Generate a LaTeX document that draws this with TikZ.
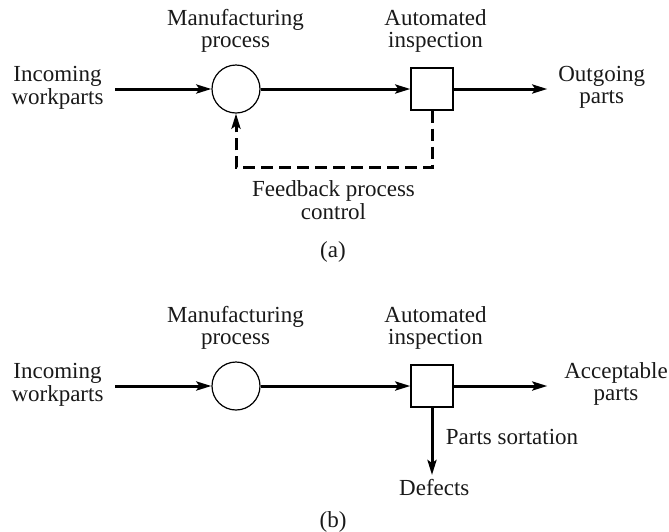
\documentclass[tikz,border=0pt]{standalone}
\usepackage{fontspec}
\setmainfont{Liberation Serif}
\usetikzlibrary{arrows.meta}
\newcommand\twolines[2]{\begin{tabular}[t]{@{}c@{}}#1\\#2\end{tabular}}
\begin{document}
\begin{tikzpicture}[x=1pt,y=-1pt,
  lbl/.style={inner sep=0pt, anchor=base, font=\fontsize{23}{22}\selectfont, text=black!90},
  proc/.style={draw, circle, line width=1.2pt, minimum size=48pt, inner sep=0pt},
  inspbox/.style={draw, rectangle, line width=1.4pt, minimum size=42pt, inner sep=0pt},
  tip/.style={-{Stealth[length=15pt,width=9pt,inset=3pt]}},
  flow/.style={line width=3pt, tip},
  fbline/.style={line width=3pt, dash pattern=on 12pt off 6pt, tip}]
\useasboundingbox (0,0) rectangle (669,531);

% ---------- (a) ----------
\node[lbl] (mfgA) at (235.5,25) {\twolines{Manufacturing}{process}};
\node[lbl] (inspA) at (435.5,25) {\twolines{Automated}{inspection}};
\node[lbl] (inA) at (57.5,81.7) {\twolines{Incoming}{workparts}};
\node[lbl] (outA) at (601.7,81.7) {\twolines{Outgoing}{parts}};
\node[proc] (circA) at (236,89) {};
\node[inspbox] (sqA) at (432,89) {};
\coordinate (startA) at (115,89);
\coordinate (endA) at (547.3,89);
\coordinate (fb1) at (432,167.5);
\coordinate (fb2) at (236,167.5);
\draw[flow] (startA) -- (circA.west);
\draw[flow] (circA.east) -- (sqA.west);
\draw[flow] (sqA.east) -- (endA);
\draw[fbline] (sqA.south) -- (fb1) -- (fb2) -- (circA.south);
\node[lbl] (fbA) at (333.5,196.7) {\twolines{Feedback process}{control}};
\node[lbl] (capA) at (333,257) {(a)};

% ---------- (b) ----------
\node[lbl] (mfgB) at (235.5,322) {\twolines{Manufacturing}{process}};
\node[lbl] (inspB) at (435.5,322) {\twolines{Automated}{inspection}};
\node[lbl] (inB) at (57.5,378.7) {\twolines{Incoming}{workparts}};
\node[lbl] (accB) at (616,378.7) {\twolines{Acceptable}{parts}};
\node[proc] (circB) at (236,386) {};
\node[inspbox] (sqB) at (432,386) {};
\coordinate (startB) at (115,386);
\coordinate (endB) at (547.3,386);
\node[lbl] (defB) at (434.3,495.7) {Defects};
\coordinate (downB) at (432,475);
\draw[flow] (startB) -- (circB.west);
\draw[flow] (circB.east) -- (sqB.west);
\draw[flow] (sqB.east) -- (endB);
\draw[flow] (sqB.south) -- (downB);
\node[lbl, anchor=base west] (sortB) at (445.7,444) {Parts sortation};
\node[lbl] (capB) at (333,527) {(b)};
\end{tikzpicture}
\end{document}
